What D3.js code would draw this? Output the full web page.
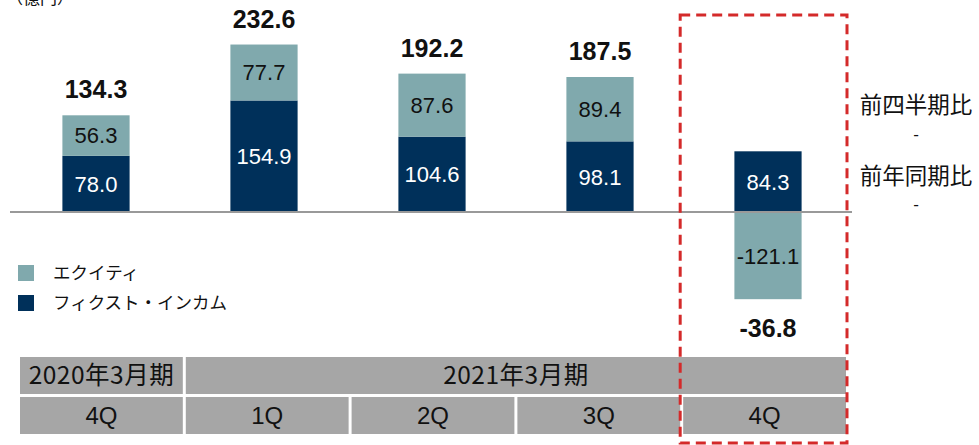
<!DOCTYPE html>
<html>
<head>
<meta charset="utf-8">
<title>Quarterly chart</title>
<style>
body { margin: 0; background: #fff; }
svg text { font-family: "Liberation Sans", Arial, "Noto Sans CJK JP", sans-serif; }
.jp { font-family: "Noto Sans CJK JP", "Liberation Sans", sans-serif; }
</style>
<script src="https://d3js.org/d3.v7.min.js"></script>
</head>
<body>
<svg id="chart" width="979" height="445"></svg>
<script>
// data
const quarters = ["4Q", "1Q", "2Q", "3Q", "4Q"];
const fiscalYears = ["2020年3月期", "2021年3月期"];
const fiscalSpan = [[0, 0], [1, 4]];
const fixedIncome = [78.0, 154.9, 104.6, 98.1, 84.3];
const equity = [56.3, 77.7, 87.6, 89.4, -121.1];
const totals = [134.3, 232.6, 192.2, 187.5, -36.8];
const seriesNames = ["エクイティ", "フィクスト・インカム"];
const notes = ["前四半期比", "-", "前年同期比", "-"];

const colEquity = "#80A9AD";
const colFixed = "#00305A";

const svg = d3.select("#chart");

// scales
const x = d3.scaleBand().domain(d3.range(quarters.length)).range([12, 852]).paddingInner(0.6).paddingOuter(0.3);
const y = d3.scaleLinear().domain([-150, 250]).range([320, 32]);
const tx = d3.scaleBand().domain(d3.range(quarters.length)).range([20, 846]).paddingInner(0.018);

// unit label, cut off at top like the source
svg.append("text").attr("class", "jp").attr("x", 6).attr("y", 4)
  .attr("font-size", 17).attr("fill", "#111").text("（億円）");

// stacked series
const rows = quarters.map((q, i) => ({ i: i, fixed: fixedIncome[i], equity: equity[i] }));
const stack = d3.stack().keys(["fixed", "equity"]).offset(d3.stackOffsetDiverging)(rows);
const colors = { fixed: colFixed, equity: colEquity };
const textCol = { fixed: "#fff", equity: "#111" };

stack.forEach(layer => {
  const g = svg.append("g");
  g.selectAll("rect").data(layer).enter().append("rect")
    .attr("x", d => x(d.data.i))
    .attr("width", x.bandwidth())
    .attr("y", d => y(d[1]))
    .attr("height", d => y(d[0]) - y(d[1]))
    .attr("fill", colors[layer.key]);
  g.selectAll("text").data(layer).enter().append("text")
    .attr("x", d => x(d.data.i) + x.bandwidth() / 2)
    .attr("y", d => (y(d[0]) + y(d[1])) / 2)
    .attr("dy", "0.36em")
    .attr("text-anchor", "middle")
    .attr("font-size", 22)
    .attr("fill", textCol[layer.key])
    .text(d => d.data[layer.key].toFixed(1));
});

// zero line
svg.append("line").attr("x1", 10).attr("x2", 852).attr("y1", y(0)).attr("y2", y(0))
  .attr("stroke", "#999").attr("stroke-width", 2);

// totals
svg.selectAll(".total").data(totals).enter().append("text")
  .attr("class", "total")
  .attr("x", (d, i) => x(i) + x.bandwidth() / 2)
  .attr("y", (d, i) => d >= 0 ? y(Math.max(d, fixedIncome[i] + Math.max(0, equity[i]))) - 17
                              : y(Math.min(0, equity[i])) + 38)
  .attr("text-anchor", "middle")
  .attr("font-size", 25)
  .attr("font-weight", "bold")
  .attr("fill", "#111")
  .text(d => d.toFixed(1));

// legend
const legend = svg.append("g");
[colEquity, colFixed].forEach((c, k) => {
  legend.append("rect").attr("x", 18).attr("y", 265 + k * 30).attr("width", 16).attr("height", 16).attr("fill", c);
  legend.append("text").attr("class", "jp").attr("x", 53).attr("y", 273 + k * 30).attr("dy", "0.36em")
    .attr("font-size", 17.5).attr("fill", "#111").text(seriesNames[k]);
});

// table
const row1 = 357, row2 = 397, rh = 37;
fiscalYears.forEach((fy, k) => {
  const x0 = tx(fiscalSpan[k][0]);
  const x1 = tx(fiscalSpan[k][1]) + tx.bandwidth();
  svg.append("rect").attr("x", x0).attr("y", row1).attr("width", x1 - x0).attr("height", rh).attr("fill", "#A6A6A6");
  svg.append("text").attr("class", "jp").attr("x", (x0 + x1) / 2).attr("y", row1 + rh / 2).attr("dy", "0.36em")
    .attr("text-anchor", "middle").attr("font-size", 24.5).attr("letter-spacing", 0.5)
    .attr("fill", "#111").text(fy);
});
svg.selectAll(".qcell").data(quarters).enter().append("rect")
  .attr("class", "qcell")
  .attr("x", (d, i) => tx(i)).attr("y", row2).attr("width", tx.bandwidth()).attr("height", rh)
  .attr("fill", "#A6A6A6");
svg.selectAll(".qtext").data(quarters).enter().append("text")
  .attr("class", "qtext")
  .attr("x", (d, i) => tx(i) + tx.bandwidth() / 2).attr("y", row2 + rh / 2).attr("dy", "0.36em")
  .attr("text-anchor", "middle").attr("font-size", 24).attr("fill", "#111").text(d => d);

// highlight box around latest quarter
const last = quarters.length - 1;
svg.append("rect")
  .attr("x", tx(last) - 3).attr("y", 15)
  .attr("width", tx.bandwidth() + 4).attr("height", 428)
  .attr("fill", "none").attr("stroke", "#D42A2A").attr("stroke-width", 3)
  .attr("stroke-dasharray", "10,6");

// comparison notes on the right (dash lines use a smaller, plain font)
svg.selectAll(".note").data(notes).enter().append("text")
  .attr("class", (d, i) => i % 2 ? "note" : "note jp")
  .attr("x", 916).attr("y", (d, i) => [105, 134, 176, 204][i]).attr("dy", "0.36em")
  .attr("text-anchor", "middle")
  .attr("font-size", (d, i) => i % 2 ? 17 : 22.5)
  .attr("fill", "#111").text(d => d);
</script>
</body>
</html>
